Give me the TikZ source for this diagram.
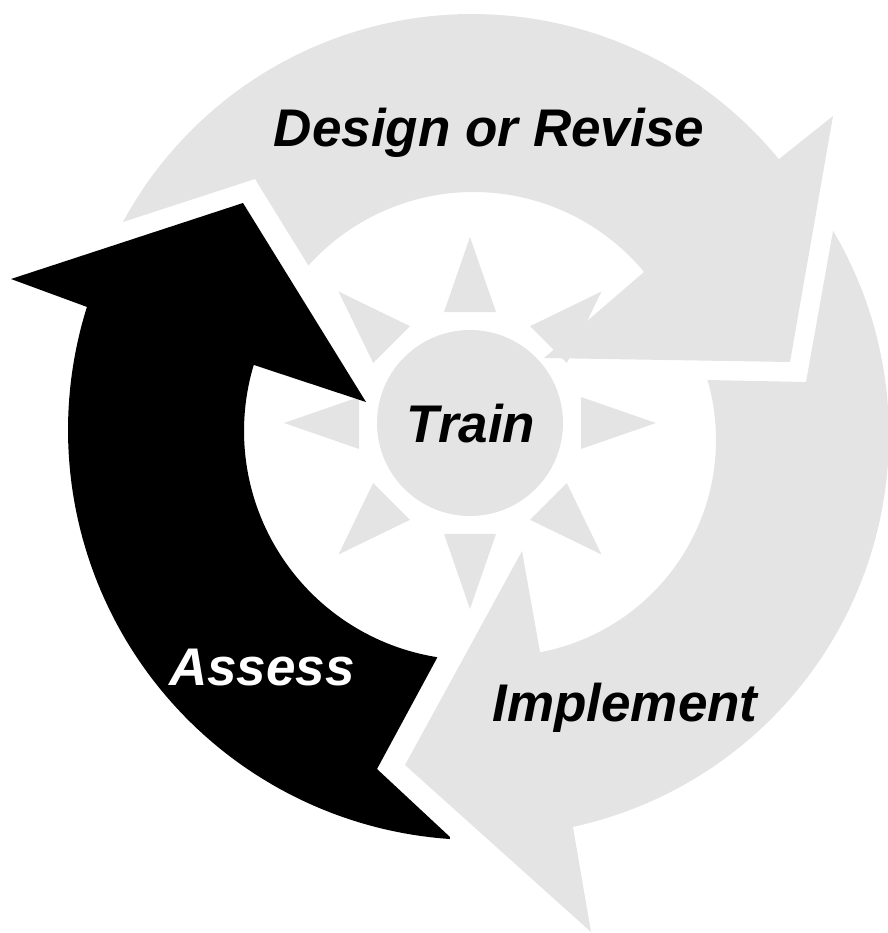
\documentclass[tikz,border=0pt]{standalone}
\usepackage{fontspec}
\setmainfont{Liberation Sans}
\definecolor{ringgray}{RGB}{228,228,228}
\begin{document}
\begin{tikzpicture}[x=1pt,y=-1pt,
  grayshape/.style={fill=ringgray},
  blackshape/.style={fill=black},
  lbl/.style={font=\fontsize{53}{60}\selectfont\bfseries\itshape, inner sep=0pt, anchor=base}]
\useasboundingbox (0,0) rectangle (887,933);
% sun rays
\foreach \a in {0,45,...,315} {
  \fill[grayshape] ({470+186*cos(\a)},{423+186*sin(\a)})
    -- ({470+114*cos(\a+13.18)},{423+114*sin(\a+13.18)})
    -- ({470+114*cos(\a-13.18)},{423+114*sin(\a-13.18)}) -- cycle;
}
\fill[grayshape] (470,423) circle[radius=93pt];
% Design or Revise arrow
\fill[grayshape] (123,222)
  -- plot[domain=208.44:320.62,samples=80] ({472+397*cos(\x)},{411+397*sin(\x)})
  -- (833,116) -- (790,362) -- (544,358) -- (644,272)
  -- plot[domain=320.21:221.99,samples=80] ({473.5+222*cos(\x)},{414+222*sin(\x)})
  -- (308,265) -- (255,179) -- cycle;
% Implement arrow
\fill[grayshape] (833,231)
  -- plot[domain=-30.6:77.77,samples=80] ({488+401*cos(\x)},{435+401*sin(\x)})
  -- (591,932) -- (405,765) -- (522,551) -- (540,652)
  -- plot[domain=79.32:-16.16,samples=80] ({500+216*cos(\x)},{440+216*sin(\x)})
  -- (707,380) -- (806,382) -- cycle;
% Assess arrow
\fill[blackshape] (450,837)
  -- plot[domain=93.94:197.47,samples=80] ({478+410*cos(\x)},{430+410*sin(\x)})
  -- (11,279) -- (243,203) -- (366,402) -- (254,365)
  -- plot[domain=196.77:99.01,samples=80] ({473+229*cos(\x)},{431+229*sin(\x)})
  -- (437,658) -- (377,769) -- cycle;
% labels
\node[lbl] (design) at (489,147) {Design or Revise};
\node[lbl] (train) at (471,442) {Train};
\node[lbl, text=white] (assess) at (262,685) {Assess};
\node[lbl] (implement) at (625,721) {Implement};
\end{tikzpicture}
\end{document}
